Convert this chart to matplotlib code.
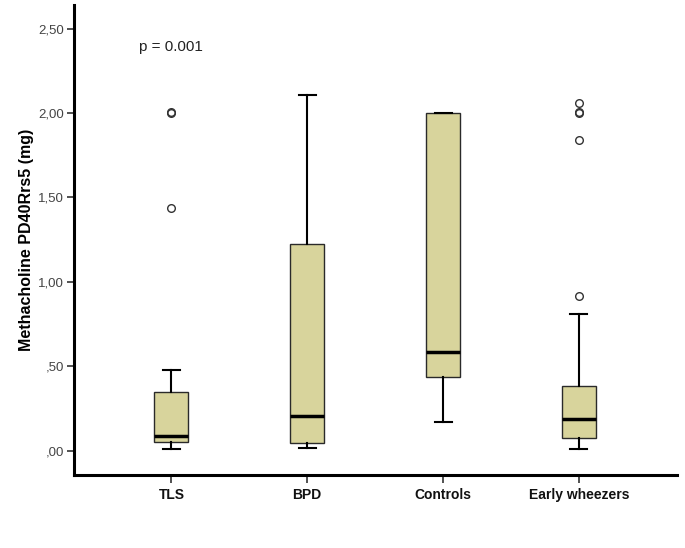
import matplotlib
matplotlib.use("Agg")
import matplotlib.pyplot as plt

categories = ["TLS", "BPD", "Controls", "Early wheezers"]
medians = [0.089, 0.207, 0.587, 0.188]
q1 = [0.050, 0.044, 0.438, 0.077]
q3 = [0.349, 1.223, 2.000, 0.381]
whislo = [0.010, 0.018, 0.168, 0.012]
whishi = [0.478, 2.109, 2.000, 0.808]
outliers = [[2.000, 2.006, 1.440], [], [], [2.058, 2.000, 2.006, 1.839, 0.918]]
yticks = [0.0, 0.5, 1.0, 1.5, 2.0, 2.5]
ytick_labels = [",00", ",50", "1,00", "1,50", "2,00", "2,50"]
p_text = "p = 0.001"

plt.rcParams['font.family'] = ['Liberation Sans', 'DejaVu Sans']

fig = plt.figure(figsize=(6.85, 5.48), dpi=100)
ax = fig.add_axes([0.108, 0.1332, 0.880, 0.8577])

stats = []
for i, c in enumerate(categories):
    stats.append(dict(label=c, med=medians[i], q1=q1[i], q3=q3[i],
                      whislo=whislo[i], whishi=whishi[i], fliers=outliers[i]))

positions = [1, 2, 3, 4]
ax.bxp(stats, positions=positions, widths=0.25, patch_artist=True,
       boxprops=dict(facecolor='#d8d49c', edgecolor='#2a2a2a', linewidth=1.0),
       medianprops=dict(color='black', linewidth=2.5),
       whiskerprops=dict(color='black', linewidth=1.5),
       capprops=dict(color='black', linewidth=1.5),
       capwidths=0.125,
       flierprops=dict(marker='o', markersize=5.5, markerfacecolor='none',
                       markeredgecolor='#333333', markeredgewidth=1.0))

ax.set_xlim(0.283, 4.72)
ax.set_ylim(-0.144, 2.64)
ax.set_yticks(yticks)
ax.set_yticklabels(ytick_labels, fontsize=9.5, color='#444444')
ax.set_xticks(positions)
ax.set_xticklabels(categories, fontsize=10, fontweight='bold', color='#111111')
ax.tick_params(axis='y', direction='out', length=5, width=1.2, color='#333333', pad=2)
ax.tick_params(axis='x', direction='out', length=6, width=1.2, color='#333333', pad=3)

for s in ['top', 'right']:
    ax.spines[s].set_visible(False)
for s in ['left', 'bottom']:
    ax.spines[s].set_linewidth(2.2)
    ax.spines[s].set_color('black')

ax.set_ylabel("Methacholine PD40Rrs5 (mg)", fontsize=11.5, fontweight='bold')
ax.yaxis.set_label_coords(-0.067, 0.5)
ax.text(1, 2.39, p_text, ha='center', va='center', fontsize=11, color='#222222')

fig.savefig("out.png", dpi=100)
